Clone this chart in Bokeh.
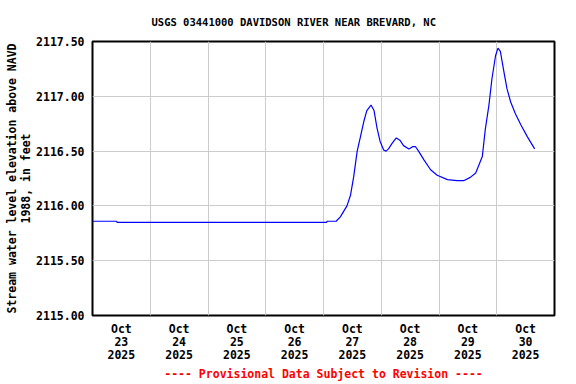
import pandas as pd
from bokeh.plotting import figure
from bokeh.models import Range1d, FixedTicker
from bokeh.embed import file_html
from bokeh.resources import INLINE

title_text = "USGS 03441000 DAVIDSON RIVER NEAR BREVARD, NC"
y_label = "Stream water level elevation above NAVD\n1988, in feet"
footer_text = "---- Provisional Data Subject to Revision ----"

times = [
    "2025-10-23 00:00", "2025-10-23 10:00", "2025-10-23 10:15", "2025-10-27 01:15",
    "2025-10-27 01:30", "2025-10-27 05:15", "2025-10-27 07:00", "2025-10-27 09:45",
    "2025-10-27 11:15", "2025-10-27 12:30", "2025-10-27 14:00", "2025-10-27 15:15",
    "2025-10-27 16:45", "2025-10-27 18:00", "2025-10-27 19:45", "2025-10-27 21:00",
    "2025-10-27 22:15", "2025-10-27 23:30", "2025-10-28 01:00", "2025-10-28 02:00",
    "2025-10-28 03:00", "2025-10-28 04:30", "2025-10-28 06:15", "2025-10-28 07:45",
    "2025-10-28 09:15", "2025-10-28 11:30", "2025-10-28 13:00", "2025-10-28 14:15",
    "2025-10-28 15:30", "2025-10-28 17:45", "2025-10-28 20:30", "2025-10-28 23:15",
    "2025-10-29 03:30", "2025-10-29 07:30", "2025-10-29 10:15", "2025-10-29 13:00",
    "2025-10-29 15:15", "2025-10-29 17:15", "2025-10-29 18:00", "2025-10-29 19:15",
    "2025-10-29 20:45", "2025-10-29 22:00", "2025-10-29 23:30", "2025-10-30 00:30",
    "2025-10-30 01:30", "2025-10-30 03:00", "2025-10-30 04:15", "2025-10-30 05:45",
    "2025-10-30 07:45", "2025-10-30 10:00", "2025-10-30 12:45", "2025-10-30 15:45",
]
levels = [
    2115.86, 2115.86, 2115.85, 2115.85,
    2115.86, 2115.86, 2115.90, 2116.00,
    2116.10, 2116.26, 2116.50, 2116.62,
    2116.77, 2116.87, 2116.92, 2116.87,
    2116.71, 2116.59, 2116.51, 2116.50,
    2116.52, 2116.57, 2116.62, 2116.60,
    2116.55, 2116.52, 2116.54, 2116.54,
    2116.50, 2116.42, 2116.33, 2116.28,
    2116.24, 2116.23, 2116.23, 2116.26,
    2116.30, 2116.41, 2116.45, 2116.70,
    2116.92, 2117.16, 2117.37, 2117.44,
    2117.41, 2117.22, 2117.07, 2116.95,
    2116.84, 2116.74, 2116.63, 2116.52,
]
day_dates = ["2025-10-23", "2025-10-24", "2025-10-25", "2025-10-26",
             "2025-10-27", "2025-10-28", "2025-10-29", "2025-10-30"]
day_labels = ["Oct\n23\n2025", "Oct\n24\n2025", "Oct\n25\n2025", "Oct\n26\n2025",
              "Oct\n27\n2025", "Oct\n28\n2025", "Oct\n29\n2025", "Oct\n30\n2025"]
x_start, x_end = "2025-10-23 00:00", "2025-10-31 00:00"
y_ticks = [2115.0, 2115.5, 2116.0, 2116.5, 2117.0, 2117.5]
y_tick_labels = ["2115.00", "2115.50", "2116.00", "2116.50", "2117.00", "2117.50"]


def ms(s):
    return pd.Timestamp(s).timestamp() * 1000.0


xs = [ms(t) for t in times]
noon = [ms(d) + 12 * 3600 * 1000 for d in day_dates]
midnights = [ms(d) for d in day_dates] + [ms(x_end)]

FONT = "DejaVu Sans Mono"
W, H = 576, 384

p = figure(width=W, height=H, output_backend="svg", toolbar_location=None,
           x_axis_type="datetime",
           x_range=Range1d(ms(x_start), ms(x_end)),
           y_range=Range1d(2115.0, 2117.5),
           min_border_left=92, min_border_right=22,
           min_border_top=41, min_border_bottom=69)
p.background_fill_color = "white"
p.border_fill_color = "white"
p.outline_line_color = "black"
p.outline_line_width = 2

p.line(xs, levels, line_color="#0000ff", line_width=1.2)

# title
p.title.text = title_text
p.title.align = "left"
p.title.offset = 59
p.title.vertical_align = "top"
p.title.text_font = FONT
p.title.text_font_style = "bold"
p.title.text_font_size = "10.5px"
p.title.text_color = "black"
p.title.standoff = 24

# x axis
p.xaxis.ticker = FixedTicker(ticks=noon)
p.xaxis.major_label_overrides = {t: l for t, l in zip(noon, day_labels)}
p.xaxis.major_label_text_font = FONT
p.xaxis.major_label_text_font_style = "bold"
p.xaxis.major_label_text_font_size = "11.5px"
p.xaxis.major_label_text_line_height = 0.95
p.xaxis.major_label_text_color = "black"
p.xaxis.major_label_standoff = 6
p.xaxis.axis_line_color = None
p.xaxis.major_tick_line_color = None
p.xaxis.major_tick_out = 0
p.xaxis.major_tick_in = 0
p.xaxis.minor_tick_line_color = None
p.xaxis.axis_label = footer_text
p.xaxis.axis_label_text_font = FONT
p.xaxis.axis_label_text_font_style = "bold"
p.xaxis.axis_label_text_font_size = "11.5px"
p.xaxis.axis_label_text_color = "#ff0000"
p.xaxis.axis_label_standoff = 2
p.xgrid.ticker = FixedTicker(ticks=midnights)
p.xgrid.grid_line_color = "#cccccc"
p.xgrid.grid_line_width = 1

# y axis
p.yaxis.ticker = FixedTicker(ticks=y_ticks)
p.yaxis.major_label_overrides = {t: l for t, l in zip(y_ticks, y_tick_labels)}
p.yaxis.major_label_text_font = FONT
p.yaxis.major_label_text_font_style = "bold"
p.yaxis.major_label_text_font_size = "11.5px"
p.yaxis.major_label_text_color = "black"
p.yaxis.major_label_standoff = 8
p.yaxis.axis_line_color = None
p.yaxis.major_tick_line_color = None
p.yaxis.major_tick_out = 0
p.yaxis.major_tick_in = 0
p.yaxis.minor_tick_line_color = None
p.yaxis.axis_label = y_label
p.yaxis.axis_label_text_font = FONT
p.yaxis.axis_label_text_font_style = "bold"
p.yaxis.axis_label_text_font_size = "11.5px"
p.yaxis.axis_label_text_line_height = 1.03
p.yaxis.axis_label_text_color = "black"
p.yaxis.axis_label_standoff = 0
p.ygrid.ticker = FixedTicker(ticks=y_ticks)
p.ygrid.grid_line_color = "#cccccc"
p.ygrid.grid_line_width = 1

open("out.html", "w").write(file_html(p, INLINE))
